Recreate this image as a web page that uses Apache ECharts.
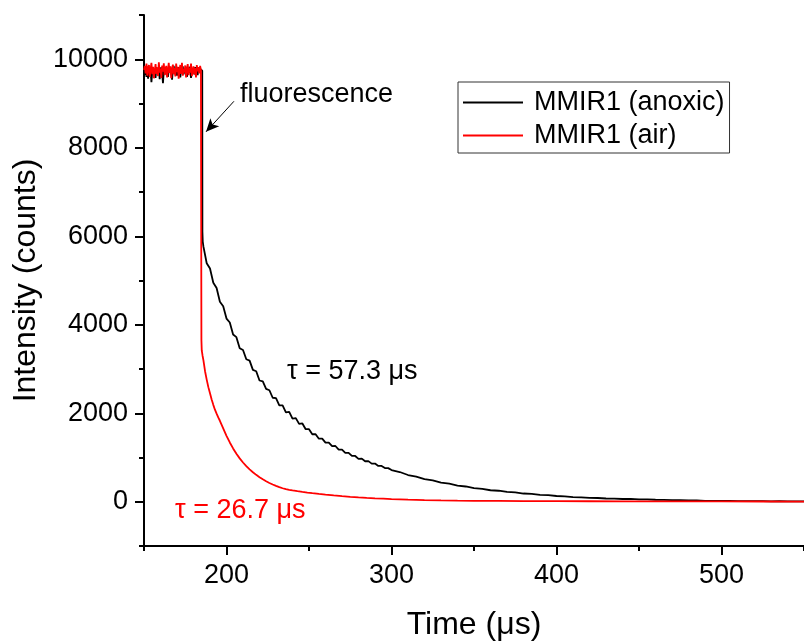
<!DOCTYPE html>
<html>
<head>
<meta charset="utf-8">
<script src="https://cdn.jsdelivr.net/npm/echarts@6/dist/echarts.min.js"></script>
<style>
  html, body { margin: 0; padding: 0; background: #fff; }
  #chart { width: 804px; height: 642px; }
</style>
</head>
<body>
<div id="chart"></div>
<script>
// plateau before the excitation pulse ends (µs)
const plateauTime = [
  150, 150.5, 151, 151.5, 152, 152.5, 153, 153.5, 154, 154.5,
  155, 155.5, 156, 156.5, 157, 157.5, 158, 158.5, 159, 159.5,
  160, 160.5, 161, 161.5, 162, 162.5, 163, 163.5, 164, 164.5,
  165, 165.5, 166, 166.5, 167, 167.5, 168, 168.5, 169, 169.5,
  170, 170.5, 171, 171.5, 172, 172.5, 173, 173.5, 174, 174.5,
  175, 175.5, 176, 176.5, 177, 177.5, 178, 178.5, 179, 179.5,
  180, 180.5, 181, 181.5, 182, 182.5, 183, 183.5, 184, 184.5
];
const anoxicPlateau = [
  9700, 9650, 9780, 9600, 9720, 9560, 9800, 9690, 9750, 9480,
  9720, 9800, 9640, 9760, 9580, 9820, 9700, 9660, 9790, 9550,
  9740, 9820, 9680, 9460, 9760, 9700, 9810, 9650, 9780, 9600,
  9740, 9830, 9690, 9770, 9540, 9760, 9850, 9680, 9720, 9790,
  9630, 9760, 9820, 9700, 9590, 9780, 9720, 9840, 9660, 9750,
  9700, 9810, 9600, 9760, 9690, 9830, 9740, 9580, 9800, 9720,
  9770, 9660, 9820, 9700, 9760, 9640, 9800, 9730, 9780, 9750
];
const airPlateau = [
  9760, 9850, 9680, 9900, 9630, 9800, 9870, 9600, 9770, 9920,
  9660, 9830, 9570, 9740, 9890, 9670, 9820, 9620, 9930, 9700,
  9790, 9580, 9860, 9720, 9910, 9640, 9780, 9850, 9590, 9750,
  9920, 9690, 9840, 9570, 9770, 9880, 9660, 9800, 9610, 9900,
  9710, 9830, 9560, 9740, 9870, 9670, 9920, 9630, 9790, 9700,
  9860, 9590, 9780, 9890, 9640, 9810, 9700, 9900, 9620, 9760,
  9840, 9660, 9800, 9590, 9870, 9730, 9820, 9680, 9850, 9760
];

// decay after the pulse
const anoxicTime = [
  185, 185.3, 185.4, 185.6,
  186, 188, 190, 192, 194, 196, 198, 200, 202, 204,
  206, 208, 210, 212, 214, 216, 218, 220, 222, 224,
  226, 228, 230, 232, 234, 236, 238, 240, 242, 244,
  246, 248, 250, 252, 254, 256, 258, 260, 262, 264,
  266, 268, 270, 272, 274, 276, 278, 280, 282, 284,
  286, 288, 290, 292, 294, 296, 298, 300,
  305, 310, 315, 320, 325, 330, 335, 340, 345, 350,
  355, 360, 365, 370, 375, 380, 385, 390, 395, 400,
  405, 410, 415, 420, 425, 430, 435, 440, 445, 450,
  455, 460, 465, 470, 475, 480, 485, 490, 495, 500,
  505, 510, 515, 520, 525, 530, 535, 540, 545, 550
];
const anoxicCounts = [
  9780, 9740, 6100, 5880,
  5770, 5390, 5270, 4950, 4830, 4520, 4420, 4140, 4050, 3780,
  3720, 3470, 3430, 3220, 3190, 2980, 2950, 2740, 2720, 2550,
  2520, 2350, 2340, 2180, 2180, 2020, 2030, 1880, 1890, 1760,
  1770, 1640, 1640, 1525, 1525, 1425, 1425, 1335, 1335, 1255,
  1260, 1180, 1180, 1105, 1105, 1035, 1035, 970, 975, 915,
  918, 862, 862, 810, 810, 762, 760, 716,
  672, 604, 570, 512, 482, 430, 408, 364, 345, 308,
  292, 260, 249, 221, 211, 186, 178, 157, 149, 130,
  121, 103, 100, 87, 85, 73, 72, 62, 63, 54,
  53, 45, 44, 36, 35, 28, 28, 22, 22, 18,
  18, 15, 15, 12, 13, 10, 11, 8, 9, 7
];
const airTime = [
  184.7, 184.8, 185, 185.5, 186, 187, 188, 189, 190, 191,
  192, 193, 194, 195, 196, 197, 198, 199, 200, 202,
  204, 206, 208, 210, 212, 214, 216, 218, 220, 222,
  224, 226, 228, 230, 232, 234, 236, 238, 240, 243,
  246, 249, 252, 256, 260, 265, 270, 275, 280, 285,
  290, 295, 300, 310, 320, 330, 340, 350, 365, 380,
  400, 420, 440, 460, 480, 500, 525, 550
];
const airCounts = [
  9740, 3650, 3420, 3300, 3200, 2950, 2760, 2590, 2450, 2310,
  2190, 2080, 1990, 1905, 1830, 1745, 1660, 1575, 1490, 1340,
  1205, 1085, 980, 887, 805, 732, 667, 608, 555, 507,
  464, 425, 390, 358, 330, 305, 283, 268, 255, 238,
  222, 207, 193, 176, 160, 142, 126, 112, 99, 88,
  78, 69, 60, 47, 38, 31, 26, 22, 18, 15,
  13, 11, 10, 9, 8, 7, 6, 5
];

// axis ticks
const xMajorTicks = [200, 300, 400, 500];
const xMinorTicks = [150, 250, 350, 450, 550];
const yMajorTicks = [0, 2000, 4000, 6000, 8000, 10000];
const yMinorTicks = [-1000, 1000, 3000, 5000, 7000, 9000, 11000];

const FONT = 'Liberation Sans, Arial, sans-serif';

const pairs = (ts, vs) => ts.map((t, i) => [t, vs[i]]);
const anoxicData = pairs(plateauTime, anoxicPlateau).concat(pairs(anoxicTime, anoxicCounts));
const airData = pairs(plateauTime, airPlateau).concat(pairs(airTime, airCounts));

const axisColor = '#000';
const tickStyle = { color: axisColor, width: 2 };

const chart = echarts.init(document.getElementById('chart'));
chart.setOption({
  backgroundColor: '#fff',
  animation: false,
  grid: { left: 144, right: 0, top: 15, bottom: 96, outerBoundsMode: 'none', containLabel: false },
  legend: {
    left: 458,
    top: 82,
    orient: 'vertical',
    padding: [7, 5, 4, 5],
    itemGap: 6,
    itemWidth: 60,
    itemHeight: 2,
    icon: 'rect',
    borderColor: '#333',
    borderWidth: 1,
    textStyle: { fontFamily: FONT, fontSize: 27, color: '#000', padding: [0, 0, 0, 6] },
    data: ['MMIR1 (anoxic)', 'MMIR1 (air)']
  },
  xAxis: [
    {
      type: 'value', min: 150, max: 550, position: 'bottom',
      name: 'Time (μs)', nameLocation: 'middle', nameGap: 63,
      nameTextStyle: { fontFamily: FONT, fontSize: 32, color: '#000' },
      axisLine: { onZero: false, lineStyle: { color: axisColor, width: 2 } },
      axisTick: { customValues: xMajorTicks, length: 9, lineStyle: tickStyle },
      axisLabel: { customValues: xMajorTicks, fontFamily: FONT, fontSize: 27, color: '#000', margin: 16 },
      splitLine: { show: false }
    },
    {
      type: 'value', min: 150, max: 550, position: 'bottom',
      axisLine: { show: false, onZero: false },
      axisTick: { customValues: xMinorTicks, length: 5, lineStyle: tickStyle },
      axisLabel: { show: false },
      splitLine: { show: false }
    }
  ],
  yAxis: [
    {
      type: 'value', min: -1000, max: 11000, position: 'left',
      name: 'Intensity (counts)', nameLocation: 'middle', nameGap: 95,
      nameTextStyle: { fontFamily: FONT, fontSize: 32, color: '#000' },
      axisLine: { show: true, onZero: false, lineStyle: { color: axisColor, width: 2 } },
      axisTick: { show: true, customValues: yMajorTicks, length: 9, lineStyle: tickStyle },
      axisLabel: {
        customValues: yMajorTicks, fontFamily: FONT, fontSize: 27, color: '#000', margin: 16,
        formatter: (v) => String(v)
      },
      splitLine: { show: false }
    },
    {
      type: 'value', min: -1000, max: 11000, position: 'left',
      axisLine: { show: false, onZero: false },
      axisTick: { show: true, customValues: yMinorTicks, length: 5, lineStyle: tickStyle },
      axisLabel: { show: false },
      splitLine: { show: false }
    }
  ],
  series: [
    {
      name: 'MMIR1 (anoxic)', type: 'line', xAxisIndex: 0, yAxisIndex: 0,
      data: anoxicData, showSymbol: false, symbol: 'none',
      lineStyle: { color: '#000', width: 1.8 }, itemStyle: { color: '#000' },
      markLine: {
        silent: true, symbol: ['none', 'arrow'], symbolSize: [9, 13],
        lineStyle: { color: '#000', width: 1, type: 'solid' },
        label: { show: false },
        data: [[{ coord: [204.5, 9050] }, { coord: [187.6, 8360] }]]
      }
    },
    {
      name: 'MMIR1 (air)', type: 'line', xAxisIndex: 0, yAxisIndex: 0,
      data: airData, showSymbol: false, symbol: 'none',
      lineStyle: { color: '#ff0000', width: 1.8 }, itemStyle: { color: '#ff0000' }
    }
  ],
  graphic: [
    { type: 'text', style: { text: 'fluorescence', x: 240, y: 95, font: '27px ' + FONT, fill: '#000', textVerticalAlign: 'middle' } },
    { type: 'text', style: { text: 'τ = 57.3 μs', x: 287, y: 372, font: '27px ' + FONT, fill: '#000', textVerticalAlign: 'middle' } },
    { type: 'text', style: { text: 'τ = 26.7 μs', x: 175, y: 511, font: '27px ' + FONT, fill: '#ff0000', textVerticalAlign: 'middle' } }
  ]
});
</script>
</body>
</html>
